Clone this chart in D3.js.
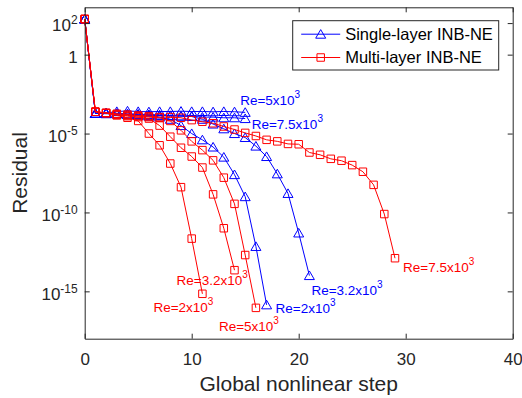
<!DOCTYPE html>
<html>
<head>
<meta charset="utf-8">
<script src="https://cdn.jsdelivr.net/npm/d3@7"></script>
<style>
  body { margin: 0; background: #fff; }
  svg { font-family: "Liberation Sans", Arial, Helvetica, sans-serif; }
</style>
</head>
<body>
<div id="chart"></div>
<script>
/**
 * Residual history for the single-layer and multi-layer INB-NE solvers.
 * One value per global nonlinear step (index = step).
 */
var stepTicks = [0, 10, 20, 30, 40];
var residualTicks = [1e2, 1, 1e-5, 1e-10, 1e-15];

// single-layer INB-NE
var singleRe2 = [1.8e2, 1.9e-4, 2.0e-4, 1.8e-4, 1.6e-4, 1.4e-4, 1.26e-4, 1.1e-4, 8e-5, 3.2e-5,
  1e-5, 4e-6, 1.4e-6, 3.2e-7, 2.5e-8, 1e-9, 7e-13, 1.4e-16];
var singleRe3_2 = [1.8e2, 1.9e-4, 2.0e-4, 1.9e-4, 1.8e-4, 1.7e-4, 1.6e-4, 1.5e-4, 1.4e-4, 1.3e-4,
  1.2e-4, 8e-5, 4e-5, 2e-5, 1e-5, 5.6e-6, 1.6e-6, 3.5e-7, 2.8e-8, 1.6e-9, 5e-12, 1e-14];
var singleRe5 = [1.8e2, 1.9e-4, 2.0e-4, 2.5e-4, 2.7e-4, 2.5e-4, 2.4e-4, 2.5e-4, 2.5e-4, 2.6e-4,
  2.5e-4, 2.5e-4, 2.4e-4, 2.5e-4, 2.4e-4, 2.2e-4];
var singleRe7_5 = [1.8e2, 1.9e-4, 1.8e-4, 1.8e-4, 1.6e-4, 1.6e-4, 1.4e-4, 1.4e-4, 1.3e-4, 1.26e-4,
  1.26e-4, 1.1e-4, 1.1e-4, 1e-4, 1e-4, 8.9e-5];

// multi-layer INB-NE
var multiRe2 = [1.8e2, 2.4e-4, 2.0e-4, 1.4e-4, 1e-4, 6.3e-5, 1e-5, 1.8e-6, 1.26e-7, 4e-9,
  2.2e-12, 7e-16];
var multiRe3_2 = [1.8e2, 2.4e-4, 2.0e-4, 1.6e-4, 1.26e-4, 1.1e-4, 8.9e-5, 3.2e-5, 6.3e-6, 1.26e-6,
  3.5e-7, 7e-8, 1.4e-9, 1e-11, 2.2e-14];
var multiRe5 = [1.8e2, 2.4e-4, 2.0e-4, 1.6e-4, 1.4e-4, 1.26e-4, 1.1e-4, 1e-4, 6.3e-5, 1.6e-5,
  3.2e-6, 8.9e-7, 2e-7, 1.6e-8, 3.5e-10, 2e-13, 9e-17];
var multiRe7_5 = [1.8e2, 2.4e-4, 2.0e-4, 1.8e-4, 1.6e-4, 1.4e-4, 1.26e-4, 1.1e-4, 1.1e-4, 1e-4,
  7.1e-5, 5.6e-5, 4.5e-5, 2.8e-5, 1.8e-5, 1.1e-5, 7e-6, 4e-6, 3.2e-6, 2.2e-6,
  2.1e-6, 6.3e-7, 4.5e-7, 2.5e-7, 1.9e-7, 1e-7, 3.8e-8, 5.6e-9, 7.9e-11, 1.26e-13];

var legendNames = ["Single-layer INB-NE", "Multi-layer INB-NE"];

var blue = "#0000ff", red = "#ff0000", axisColor = "#262626";

// series table: values + style + where the Re label sits relative to the last point
var series = [
  { values: singleRe2, re: "2", color: blue, marker: "tri", dx: 9, dy: 3.5 },
  { values: singleRe3_2, re: "3.2", color: blue, marker: "tri", dx: 2, dy: 14 },
  { values: singleRe5, re: "5", color: blue, marker: "tri", dx: -5, dy: -12 },
  { values: singleRe7_5, re: "7.5", color: blue, marker: "tri", dx: 6.5, dy: 5 },
  { values: multiRe2, re: "2", color: red, marker: "sq", dx: -49, dy: 13 },
  { values: multiRe3_2, re: "3.2", color: red, marker: "sq", dx: -58, dy: 10 },
  { values: multiRe5, re: "5", color: red, marker: "sq", dx: -37, dy: 18.5 },
  { values: multiRe7_5, re: "7.5", color: red, marker: "sq", dx: 8, dy: 8.5 }
];

var width = 522, height = 398;
var margin = { top: 7.3, right: 9.3, bottom: 59.3, left: 84.7 };

var svg = d3.select("#chart").append("svg")
  .attr("width", width)
  .attr("height", height);

var x = d3.scaleLinear().domain([0, 40]).range([margin.left, width - margin.right]);
var y = d3.scaleLog().domain([1e-18, 1e3]).range([height - margin.bottom, margin.top]);

var triPath = "M0,-4.6L5,4L-5,4Z";
var sqPath = d3.symbol(d3.symbolSquare, 56)();

// white plot area
svg.append("rect")
  .attr("x", x(0)).attr("y", y(1e3))
  .attr("width", x(40) - x(0)).attr("height", y(1e-18) - y(1e3))
  .attr("fill", "#fff");

// curves
var line = d3.line()
  .x(function (d, i) { return x(i); })
  .y(function (d) { return y(d); });

series.forEach(function (s) {
  var g = svg.append("g");
  g.append("path")
    .attr("d", line(s.values))
    .attr("fill", "none")
    .attr("stroke", s.color)
    .attr("stroke-width", 1);
  g.selectAll("path.m")
    .data(s.values)
    .enter()
    .append("path")
    .attr("class", "m")
    .attr("d", s.marker === "tri" ? triPath : sqPath)
    .attr("transform", function (d, i) { return "translate(" + x(i) + "," + y(d) + ")"; })
    .attr("fill", "none")
    .attr("stroke", s.color)
    .attr("stroke-width", 1);
});

// Re labels
series.forEach(function (s) {
  var n = s.values.length - 1;
  var t = svg.append("text")
    .attr("x", x(n) + s.dx)
    .attr("y", y(s.values[n]) + s.dy)
    .attr("dominant-baseline", "central")
    .attr("fill", s.color)
    .attr("font-size", 13.5);
  t.append("tspan").text("Re=" + s.re + "x10");
  t.append("tspan").attr("dy", -6).attr("font-size", 10).text("3");
});

// axes (box with inward ticks)
function styleAxis(g) {
  g.select(".domain").attr("stroke", axisColor).attr("stroke-width", 1);
  g.selectAll(".tick line").attr("stroke", axisColor).attr("stroke-width", 1);
  g.selectAll(".tick text").attr("fill", axisColor);
}

svg.append("g")
  .attr("transform", "translate(0," + (height - margin.bottom) + ")")
  .call(d3.axisBottom(x).tickValues(stepTicks).tickSizeInner(-5).tickSizeOuter(0).tickPadding(14))
  .call(styleAxis)
  .selectAll("text").attr("font-size", 17).attr("font-family", null);

svg.append("g")
  .attr("transform", "translate(0," + margin.top + ")")
  .call(d3.axisTop(x).tickValues(stepTicks).tickSizeInner(-5).tickSizeOuter(0).tickFormat(""))
  .call(styleAxis);

svg.append("g")
  .attr("transform", "translate(" + (width - margin.right) + ",0)")
  .call(d3.axisRight(y).tickValues(residualTicks).tickSizeInner(-5).tickSizeOuter(0).tickFormat(""))
  .call(styleAxis);

var yAxis = svg.append("g")
  .attr("transform", "translate(" + margin.left + ",0)")
  .call(d3.axisLeft(y).tickValues(residualTicks).tickSizeInner(-5).tickSizeOuter(0).tickPadding(7).tickFormat(""))
  .call(styleAxis);

yAxis.selectAll(".tick text")
  .attr("font-size", 17)
  .attr("font-family", null)
  .attr("dy", "0.45em")
  .each(function (d) {
    var t = d3.select(this);
    var p = Math.round(Math.log10(d));
    if (p === 0) {
      t.text("1");
      return;
    }
    t.append("tspan").text("10");
    t.append("tspan").attr("dy", -7).attr("font-size", 12).text(p);
  });

// axis titles
svg.append("text")
  .attr("x", (x(0) + x(40)) / 2)
  .attr("y", 391)
  .attr("text-anchor", "middle")
  .attr("font-size", 21)
  .attr("fill", axisColor)
  .text("Global nonlinear step");

svg.append("text")
  .attr("transform", "translate(27," + ((y(1e3) + y(1e-18)) / 2) + ") rotate(-90)")
  .attr("text-anchor", "middle")
  .attr("font-size", 21)
  .attr("fill", axisColor)
  .text("Residual");

// legend
var legend = svg.append("g").attr("transform", "translate(292.7,20.7)");
legend.append("rect")
  .attr("width", 206).attr("height", 49.3)
  .attr("fill", "#fff")
  .attr("stroke", axisColor)
  .attr("stroke-width", 1);

[{ color: blue, path: triPath }, { color: red, path: sqPath }].forEach(function (e, i) {
  var ly = 13.5 + i * 23.3;
  legend.append("line")
    .attr("x1", 8.5).attr("x2", 47.5).attr("y1", ly).attr("y2", ly)
    .attr("stroke", e.color).attr("stroke-width", 1);
  legend.append("path")
    .attr("d", e.path)
    .attr("transform", "translate(28," + ly + ")")
    .attr("fill", "none").attr("stroke", e.color).attr("stroke-width", 1);
  legend.append("text")
    .attr("x", 52.5).attr("y", ly)
    .attr("dominant-baseline", "central")
    .attr("font-size", 16.5)
    .attr("fill", "#000")
    .text(legendNames[i]);
});
</script>
</body>
</html>
